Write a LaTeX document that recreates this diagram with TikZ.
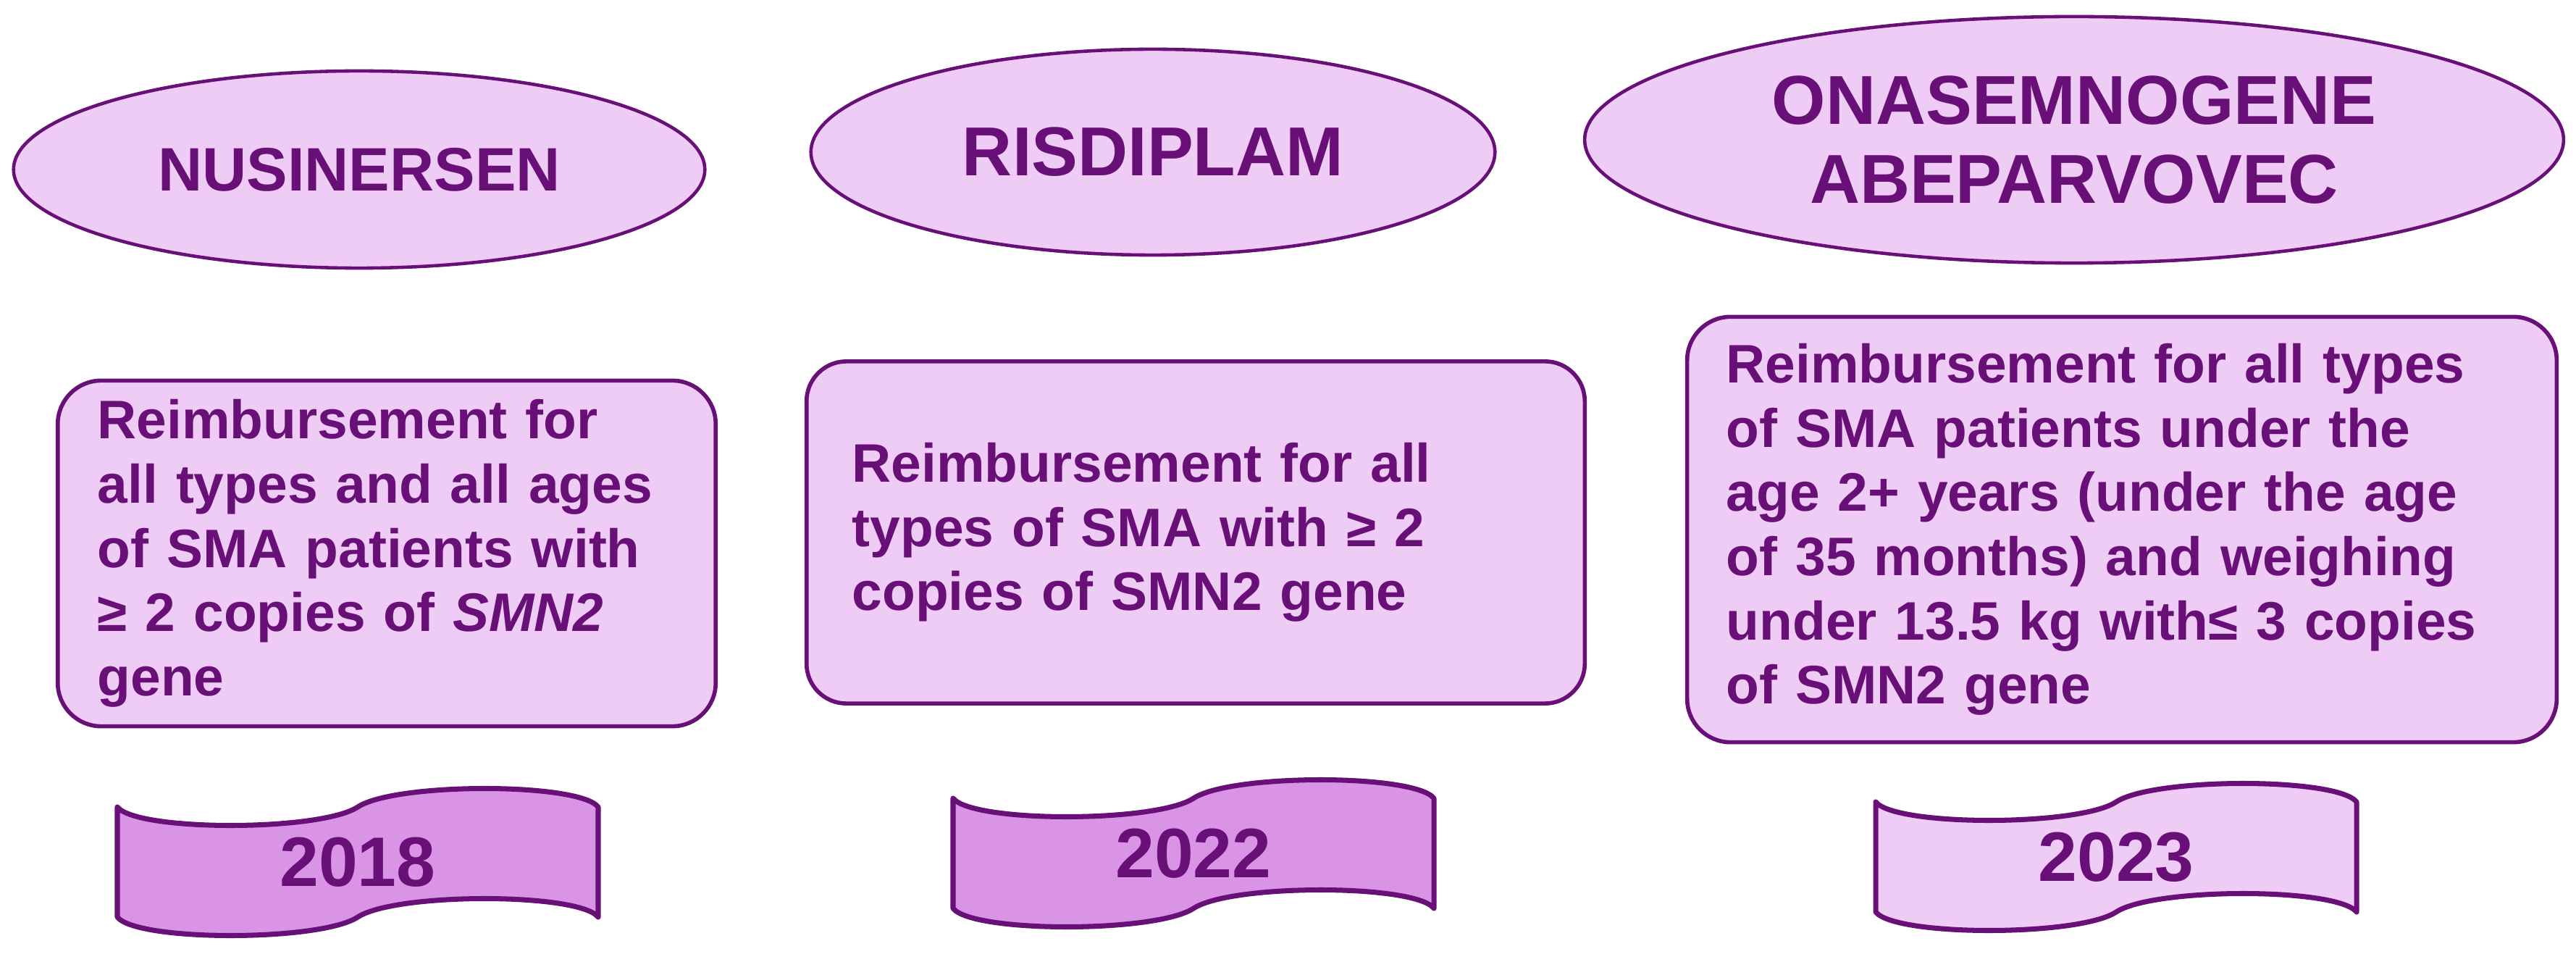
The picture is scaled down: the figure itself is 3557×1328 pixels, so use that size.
\documentclass[tikz,border=0pt]{standalone}
\usepackage{fontspec}
\setmainfont{Liberation Sans}
\usetikzlibrary{shapes.geometric}
\definecolor{ink}{RGB}{104,16,120}
\definecolor{lav}{RGB}{238,204,245}
\definecolor{orchid}{RGB}{218,148,230}
\begin{document}
\begin{tikzpicture}[x=0.01cm, y=-0.01cm,
    drug/.style={ellipse, draw=ink, line width=1.3pt, fill=lav, inner sep=0pt, align=center, text=ink, font=\fontsize{27.2}{31}\selectfont\bfseries},
    rulebox/.style={rectangle, draw=ink, line width=1.6pt, fill=lav, rounded corners=0.6cm, align=left, inner ysep=0pt, text=ink, font=\fontsize{21.3}{25.2}\selectfont\bfseries},
    ribbon/.style={draw=ink, line width=2pt, line join=round},
    year/.style={text=ink, font=\fontsize{27.5}{30}\selectfont\bfseries},
]
\useasboundingbox (0,0) rectangle (3557,1328);

% ---- drugs: ellipses on top ----
\node[drug, minimum width=9.54cm, minimum height=2.72cm, font=\fontsize{24.1}{28}\selectfont\bfseries] (nus) at (496,234) {NUSINERSEN};
\node[drug, minimum width=9.44cm, minimum height=2.84cm] (ris) at (1592,210) {RISDIPLAM};
\node[drug, minimum width=13.51cm, minimum height=3.40cm] (ona) at (2864,193) {ONASEMNOGENE\\ABEPARVOVEC};

% ---- reimbursement rules: rounded boxes ----
\node[rulebox, minimum height=4.77cm, text width=7.98cm, inner xsep=0.55cm] (rnus) at (534,764) {Reimbursement for\\all types and all ages\\of SMA patients with\\≥ 2 copies of \textit{SMN2}\\gene};
\node[rulebox, minimum height=4.72cm, text width=9.48cm, inner xsep=0.63cm, rounded corners=0.55cm] (rris) at (1651,735) {Reimbursement for all\\types of SMA with ≥ 2\\copies of SMN2 gene};
\node[rulebox, minimum height=5.87cm, text width=10.92cm, inner xsep=0.54cm] (rona) at (2930,731) {Reimbursement for all types\\of SMA patients under the\\age 2+ years (under the age\\of 35 months) and weighing\\under 13.5 kg with≤ 3 copies\\of SMN2 gene};

% ---- years: wave banners ----
\foreach \x/\y/\shade/\yr in {162/1114/orchid/2018, 1316/1102/orchid/2022, 2590/1107/lav/2023} {
  \begin{scope}[shift={(\x,\y)}]
    \draw[ribbon, fill=\shade] (0,0) .. controls (27,34) and (280,34) .. (332,0)
      .. controls (384,-34) and (637,-34) .. (664,0) -- (664,152)
      .. controls (637,118) and (384,118) .. (332,152)
      .. controls (280,186) and (27,186) .. (0,152) -- cycle;
    \node[year] (y\yr) at (332,76) {\yr};
  \end{scope}
}
\end{tikzpicture}
\end{document}
